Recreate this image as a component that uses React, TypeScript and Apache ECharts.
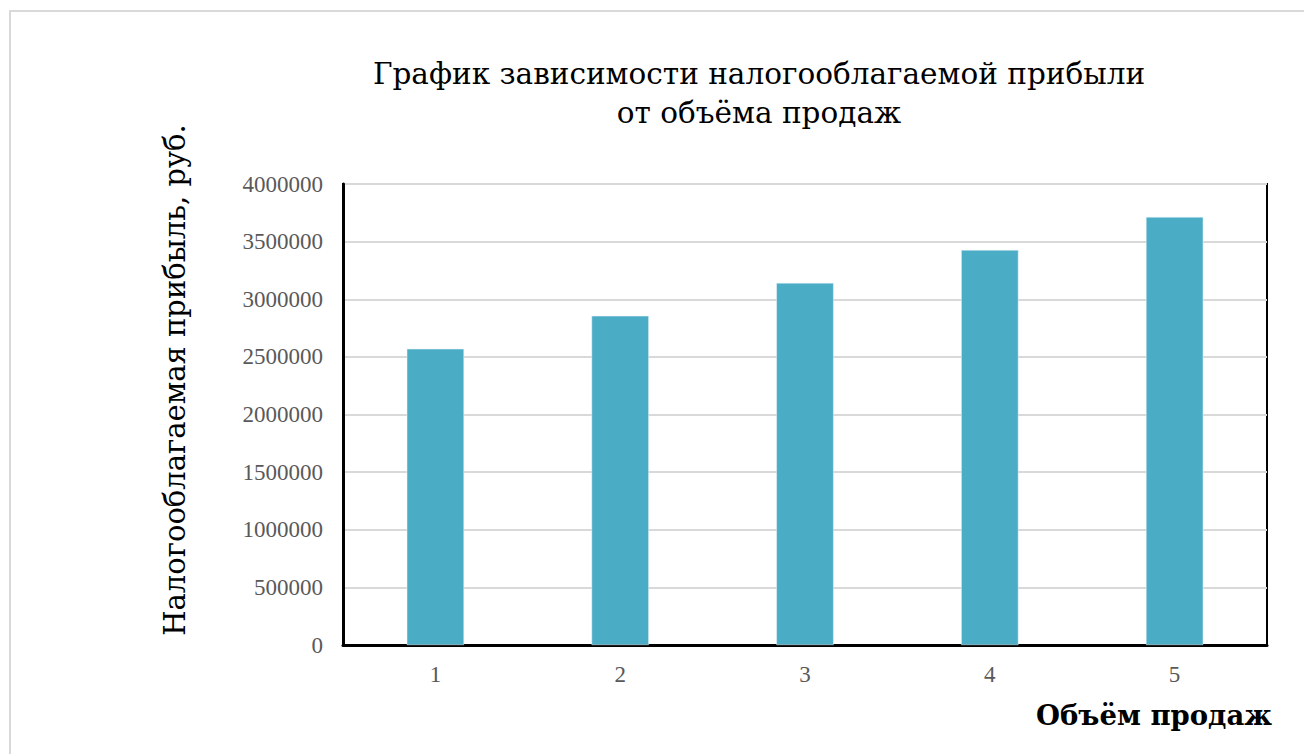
import React, { useEffect, useRef } from "react";
import * as echarts from "echarts";

const categories = ["1", "2", "3", "4", "5"];
const profitValues = [2570000, 2856000, 3142000, 3428000, 3714000];
const titleLines = ["График зависимости налогооблагаемой прибыли", "от объёма продаж"];
const yAxisTitle = "Налогооблагаемая прибыль, руб.";
const xAxisTitle = "Объём продаж";

const SERIF = "Liberation Serif";
const CYR_SERIF = "DejaVu Serif";

export default function App() {
  const ref = useRef<HTMLDivElement>(null);
  useEffect(() => {
    if (!ref.current) return;
    const chart = echarts.init(ref.current, undefined, { renderer: "svg" });
    chart.setOption({
      animation: false,
      backgroundColor: "#ffffff",
      title: {
        text: titleLines.join("\n"),
        left: 754,
        top: 49,
        textAlign: "center",
        textStyle: {
          fontFamily: CYR_SERIF,
          fontSize: 29.5,
          fontWeight: "normal",
          color: "#000000",
          lineHeight: 39,
        },
      },
      graphic: [
        {
          type: "rect",
          shape: { x: 10, y: 11, width: 1310, height: 760 },
          style: { fill: "none", stroke: "#d9d9d9", lineWidth: 2 },
          silent: true,
        },
        {
          type: "text",
          x: 175,
          y: 380,
          rotation: Math.PI / 2,
          style: {
            text: yAxisTitle,
            fontFamily: CYR_SERIF,
            fontSize: 29,
            fill: "#000000",
            align: "center",
            verticalAlign: "middle",
          },
          silent: true,
        },
      ],
      grid: {
        left: 343,
        right: 37,
        top: 184,
        bottom: 109,
        show: true,
        borderColor: "#000000",
        borderWidth: 2,
        backgroundColor: "transparent",
      },
      xAxis: {
        type: "category",
        data: categories,
        name: xAxisTitle,
        nameLocation: "end",
        nameGap: 5,
        nameTextStyle: {
          fontFamily: CYR_SERIF,
          fontSize: 27.5,
          fontWeight: "bold",
          color: "#000000",
          align: "right",
          verticalAlign: "top",
          padding: [56, 0, 0, 0],
        },
        axisLine: { show: true, lineStyle: { color: "#000000", width: 3 } },
        axisTick: { show: false },
        axisLabel: {
          fontFamily: SERIF,
          fontSize: 23,
          color: "#595959",
          margin: 18,
        },
      },
      yAxis: {
        type: "value",
        min: 0,
        max: 4000000,
        interval: 500000,
        axisLine: { show: true, lineStyle: { color: "#000000", width: 3 } },
        axisTick: { show: false },
        axisLabel: {
          fontFamily: SERIF,
          fontSize: 23,
          color: "#595959",
          margin: 20,
          formatter: (v: number) => String(v),
        },
        splitLine: { show: true, lineStyle: { color: "#d9d9d9", width: 2 } },
      },
      series: [
        {
          type: "bar",
          data: profitValues,
          barWidth: "31%",
          itemStyle: { color: "#4bacc6", borderColor: "#e8f4f8", borderWidth: 0.5 },
        },
      ],
    });
    return () => chart.dispose();
  }, []);
  return (
    <div
      ref={ref}
      style={{ position: "fixed", left: 0, top: 0, width: 1304, height: 754 }}
    />
  );
}
